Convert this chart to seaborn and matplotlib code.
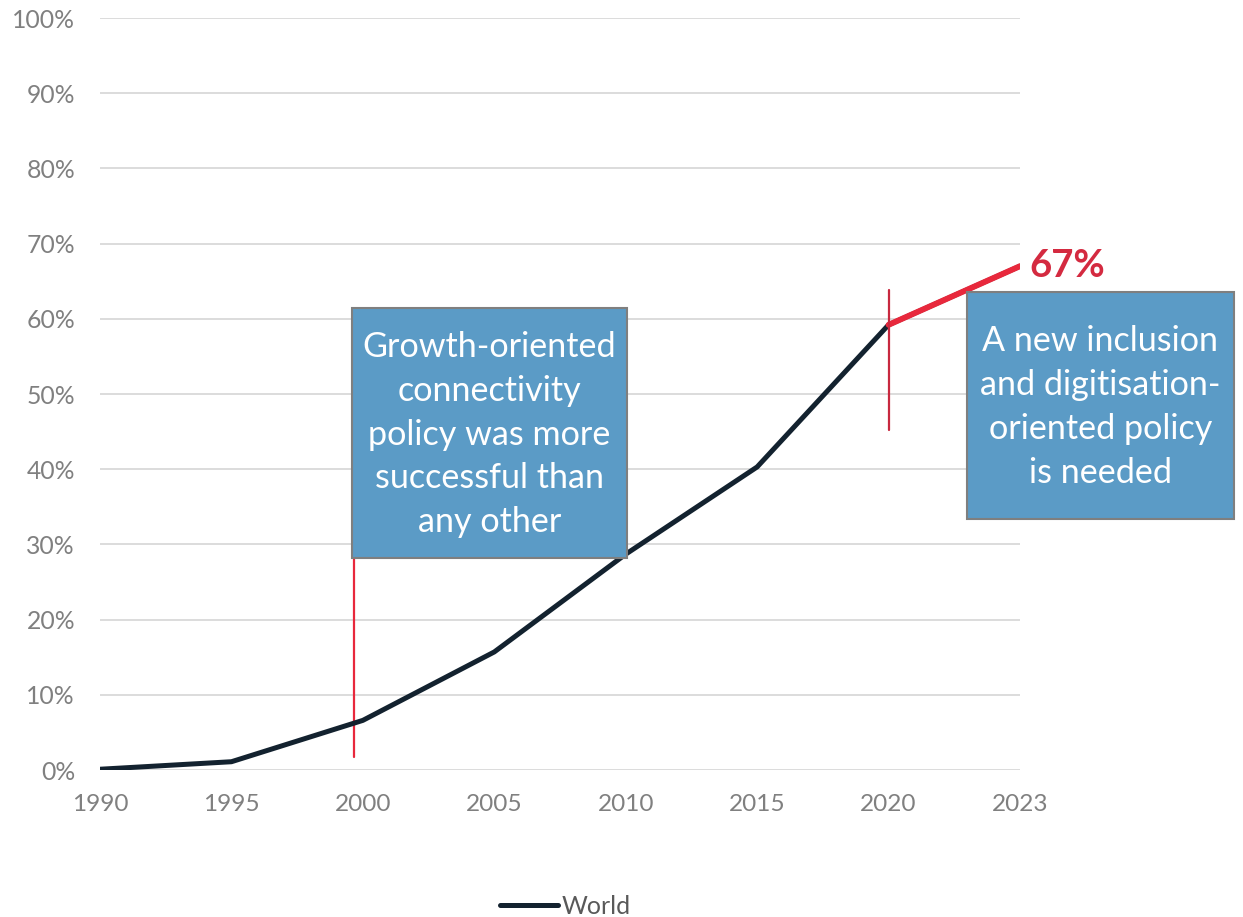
import matplotlib
matplotlib.use("Agg")
import matplotlib.pyplot as plt
import seaborn as sns
import pandas as pd
from matplotlib.patches import Rectangle
from matplotlib.ticker import PercentFormatter

years = ["1990", "1995", "2000", "2005", "2010", "2015", "2020", "2023"]
world = [0.1, 1.1, 6.6, 15.7, 28.7, 40.3, 59.2, 67.0]
highlight_years = ["2020", "2023"]
y_ticks = [0, 10, 20, 30, 40, 50, 60, 70, 80, 90, 100]
box1_text = "Growth-oriented\nconnectivity\npolicy was more\nsuccessful than\nany other"
box2_text = "A new inclusion\nand digitisation-\noriented policy\nis needed"
end_label = "67%"

sns.set_theme(style="white")
plt.rcParams['font.family'] = ['Lato', 'DejaVu Sans']

df = pd.DataFrame({"pos": range(len(years)), "year": years, "value": world})
hl = df[df["year"].isin(highlight_years)]

fig = plt.figure(figsize=(12.43, 9.17), dpi=100)
ax = fig.add_axes([100/1243, 1-770/917, 920/1243, 752/917])

sns.lineplot(data=df, x="pos", y="value", ax=ax, color="#13222F", linewidth=3.6,
             label="World", zorder=3, solid_capstyle="round")
sns.lineplot(data=hl, x="pos", y="value", ax=ax, color="#E8283C", linewidth=4.2,
             legend=False, zorder=4, solid_capstyle="round")

ax.set_xlim(0, len(years) - 1)
ax.set_ylim(0, 100)
ax.set_xticks(df["pos"])
ax.set_xticklabels(years)
ax.set_yticks(y_ticks)
ax.yaxis.set_major_formatter(PercentFormatter(decimals=0))
ax.set_xlabel("")
ax.set_ylabel("")
ax.grid(axis="y", color="#D9D9D9", linewidth=1.3)
ax.set_axisbelow(True)
for s in ax.spines.values():
    s.set_visible(False)
ax.tick_params(axis="y", length=0, pad=18, labelsize=17.8, labelcolor="#808080")
ax.tick_params(axis="x", length=0, pad=17, labelsize=17.6, labelcolor="#808080")

# vertical red markers
ax.plot([1.93, 1.93], [1.7, 45], color="#E8283C", linewidth=1.6, zorder=2)
ax.plot([6.0, 6.0], [45.2, 63.8], color="#C8283F", linewidth=1.6, zorder=5)

# boxes
step = 131.43
def px2x(px):
    return (px - 100) / step
def py2y(py):
    return (770 - py) / 7.52

b1 = Rectangle((px2x(352), py2y(558)), px2x(627) - px2x(352), py2y(308) - py2y(558),
               facecolor="#5B9BC6", edgecolor="#7F7F7F", linewidth=1.5, zorder=6, clip_on=False)
ax.add_patch(b1)
ax.text((px2x(352) + px2x(627)) / 2, (py2y(558) + py2y(308)) / 2 - 0.2, box1_text,
        ha="center", va="center", color="white", fontsize=24.6, linespacing=1.46, zorder=7)

b2 = Rectangle((px2x(967), py2y(519)), px2x(1234) - px2x(967), py2y(292) - py2y(519),
               facecolor="#5B9BC6", edgecolor="#7F7F7F", linewidth=1.5, zorder=6, clip_on=False)
ax.add_patch(b2)
ax.text((px2x(967) + px2x(1234)) / 2, (py2y(519) + py2y(292)) / 2 - 0.2, box2_text,
        ha="center", va="center", color="white", fontsize=24.6, linespacing=1.46, zorder=7,
        clip_on=False)

ax.annotate(end_label, xy=(len(years) - 1, world[-1]), xytext=(7, 0), textcoords="offset points",
            ha="left", va="center", color="#D42A40", fontsize=27.5, fontweight="bold",
            annotation_clip=False)

leg = ax.get_legend()
if leg is not None:
    leg.remove()
handles, labels = ax.get_legend_handles_labels()
fig.legend(handles[:1], labels[:1], loc="center", bbox_to_anchor=(0.455, 1 - 906/917),
           frameon=False, fontsize=18, labelcolor="#595959", handlelength=2.3,
           handletextpad=0.15)

fig.savefig("out.png", dpi=100, facecolor="white")
